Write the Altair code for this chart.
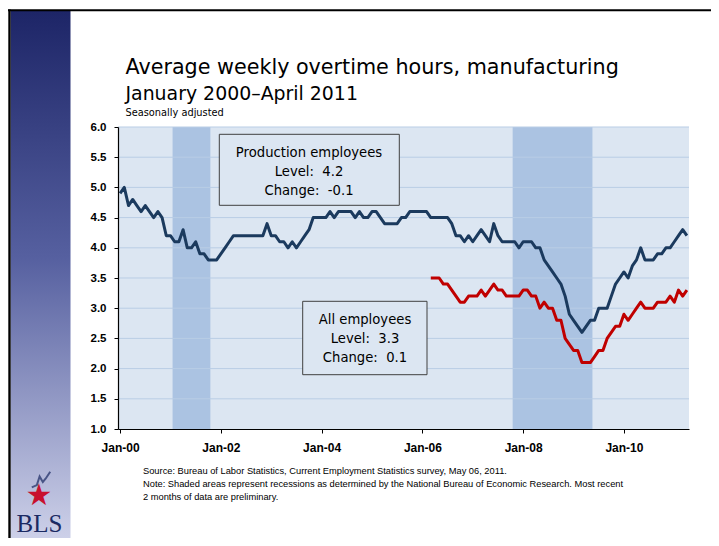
import json
import altair as alt
import pandas as pd

# ---------------- data ----------------
title_line1 = "Average weekly overtime hours, manufacturing"
title_line2 = "January 2000\u2013April 2011"
title_line3 = "Seasonally adjusted"

tick_labels = ["Jan-00", "Jan-02", "Jan-04", "Jan-06", "Jan-08", "Jan-10"]
tick_index = [0, 24, 48, 72, 96, 120]          # months since Jan 2000
y_ticks = [1.0, 1.5, 2.0, 2.5, 3.0, 3.5, 4.0, 4.5, 5.0, 5.5, 6.0]

series_names = ["Production employees", "All employees"]
series_colors = ["#1b3a5e", "#c00000"]

# Production employees, Jan 2000 .. Apr 2011 (monthly)
production_hours = [4.9, 5.0, 4.7, 4.8, 4.7, 4.6, 4.7, 4.6, 4.5, 4.6, 4.5, 4.2,
                    4.2, 4.1, 4.1, 4.3, 4.0, 4.0, 4.1, 3.9, 3.9, 3.8, 3.8, 3.8,
                    3.9, 4.0, 4.1, 4.2, 4.2, 4.2, 4.2, 4.2, 4.2, 4.2, 4.2, 4.4,
                    4.2, 4.2, 4.1, 4.1, 4.0, 4.1, 4.0, 4.1, 4.2, 4.3, 4.5, 4.5,
                    4.5, 4.5, 4.6, 4.5, 4.6, 4.6, 4.6, 4.6, 4.5, 4.6, 4.5, 4.5,
                    4.6, 4.6, 4.5, 4.4, 4.4, 4.4, 4.4, 4.5, 4.5, 4.6, 4.6, 4.6,
                    4.6, 4.6, 4.5, 4.5, 4.5, 4.5, 4.5, 4.4, 4.2, 4.2, 4.1, 4.2,
                    4.1, 4.2, 4.3, 4.2, 4.1, 4.4, 4.2, 4.1, 4.1, 4.1, 4.1, 4.0,
                    4.1, 4.1, 4.1, 4.0, 4.0, 3.8, 3.7, 3.6, 3.5, 3.4, 3.2, 2.9,
                    2.8, 2.7, 2.6, 2.7, 2.8, 2.8, 3.0, 3.0, 3.0, 3.2, 3.4, 3.5,
                    3.6, 3.5, 3.7, 3.8, 4.0, 3.8, 3.8, 3.8, 3.9, 3.9, 4.0, 4.0,
                    4.1, 4.2, 4.3, 4.2]

# All employees, Mar 2006 .. Apr 2011 (monthly)
all_start_month = 74   # Mar 2006
all_hours = [3.5, 3.5, 3.5, 3.4, 3.4, 3.3, 3.2, 3.1, 3.1, 3.2, 3.2, 3.2,
             3.3, 3.2, 3.3, 3.4, 3.3, 3.3, 3.2, 3.2, 3.2, 3.2, 3.3, 3.3,
             3.2, 3.2, 3.0, 3.1, 3.0, 3.0, 2.8, 2.8, 2.5, 2.4, 2.3, 2.3,
             2.1, 2.1, 2.1, 2.2, 2.3, 2.3, 2.5, 2.6, 2.7, 2.7, 2.9, 2.8,
             2.9, 3.0, 3.1, 3.0, 3.0, 3.0, 3.1, 3.1, 3.1, 3.2, 3.1, 3.3,
             3.2, 3.3]

# recession shading: first and last shaded month (months since Jan 2000)
recession_first = [13, 94]
recession_last = [21, 112]

box1_lines = ["Production employees", "Level:\u00a0 4.2", "Change:\u00a0 -0.1"]
box2_lines = ["All employees", "Level:\u00a0 3.3", "Change:\u00a0 0.1"]

footer_lines = [
    "Source: Bureau of Labor Statistics, Current Employment Statistics survey, May 06, 2011.",
    "Note: Shaded areas represent recessions as determined by the National Bureau of Economic Research. Most recent",
    "2 months of data are preliminary.",
]

# ---------------- layout ----------------
W, H = 571, 302
PAD_L, PAD_T = 110, 119
CANVAS_W, CANVAS_H = 703, 530
PAD_R = CANVAS_W - PAD_L - W
PAD_B = CANVAS_H - PAD_T - H


def px(page_x):
    return page_x - (8 + PAD_L)


def py(page_y):
    return page_y - (8 + PAD_T)


one = pd.DataFrame({"k": [0]})

x_scale = alt.Scale(domain=[-0.5, 135.5], nice=False, zero=False)
y_scale = alt.Scale(domain=[1, 6], nice=False, zero=False)

prod_df = pd.DataFrame({"month": list(range(len(production_hours))),
                        "hours": production_hours, "series": series_names[0]})
all_df = pd.DataFrame({"month": list(range(all_start_month, all_start_month + len(all_hours))),
                       "hours": all_hours, "series": series_names[1]})
lines_df = pd.concat([prod_df, all_df], ignore_index=True)

rec_df = pd.DataFrame({"first": recession_first, "last": recession_last})
grid_df = pd.DataFrame({"v": y_ticks[1:]})

label_expr = json.dumps(tick_labels) + "[round(datum.value / 24)]"

axis_common = dict(title=None, domainColor="black", domainWidth=1.2, tickColor="black",
                   tickSize=4, labelFont="Liberation Sans", labelFontWeight="bold",
                   labelColor="black", zindex=1, grid=False)

x_axis = alt.Axis(values=tick_index, labelExpr=label_expr, labelFontSize=12,
                  labelPadding=9, **axis_common)
y_axis = alt.Axis(values=y_ticks, format=".1f", labelFontSize=11.5, labelPadding=8,
                  **axis_common)

recessions = alt.Chart(rec_df).transform_calculate(
    x0="datum.first - 0.5", x1="datum.last + 0.5"
).mark_rect(color="#abc3e2").encode(
    x=alt.X("x0:Q", scale=x_scale, axis=x_axis),
    x2="x1:Q",
    y=alt.value(0), y2=alt.value(H),
)

grid = alt.Chart(grid_df).mark_rule(color="#b9cde5", strokeWidth=1).encode(
    y=alt.Y("v:Q", scale=y_scale, axis=y_axis),
    x=alt.value(0), x2=alt.value(W),
)

lines = alt.Chart(lines_df).mark_line(strokeWidth=3, strokeJoin="round").encode(
    x=alt.X("month:Q", scale=x_scale, axis=x_axis),
    y=alt.Y("hours:Q", scale=y_scale, axis=y_axis),
    color=alt.Color("series:N", scale=alt.Scale(domain=series_names, range=series_colors),
                    legend=None),
    detail="series:N",
)


def box(x0, x1, y0, y1):
    return alt.Chart(one).mark_rect(fill="#dce6f2", stroke="#404040", strokeWidth=1).encode(
        x=alt.value(px(x0)), x2=alt.value(px(x1)), y=alt.value(py(y0)), y2=alt.value(py(y1)))


def label(text, x, y, size, font="DejaVu Sans", align="left", baseline="alphabetic",
          weight="normal", color="black"):
    return alt.Chart(one).mark_text(text=text, font=font, fontSize=size, align=align,
                                    baseline=baseline, fontWeight=weight, color=color).encode(
        x=alt.value(px(x)), y=alt.value(py(y)))


box_font = 13.2
box1 = [box(219.3, 399.3, 134.3, 205.3)] + [
    label(t, 309, yy, box_font, align="center", baseline="middle")
    for t, yy in zip(box1_lines, [152.5, 171.7, 190.7])]
box2 = [box(302.7, 427, 301.3, 374.7)] + [
    label(t, 365, yy, box_font, align="center", baseline="middle")
    for t, yy in zip(box2_lines, [320, 339.3, 358.3])]

titles = [
    label(title_line1, 125.5, 74, 20.7),
    label(title_line2, 125.5, 100, 18.9),
    label(title_line3, 125.5, 115.5, 9.8),
]

footer = [label(t, 143, yy, 9.3, font="Liberation Sans")
          for t, yy in zip(footer_lines, [473.5, 486.5, 499.5])]

sidebar = alt.Chart(one).mark_rect(fill={
    "gradient": "linear", "x1": 0, "y1": 0, "x2": 0, "y2": 1,
    "stops": [{"offset": 0, "color": "#1d2567"},
              {"offset": 0.45, "color": "#5660a0"},
              {"offset": 1, "color": "#d6d9ee"}]}).encode(
    x=alt.value(px(10.7)), x2=alt.value(px(70.5)), y=alt.value(py(11)), y2=alt.value(py(560)))

top_border = alt.Chart(one).mark_rule(color="black", strokeWidth=2).encode(
    x=alt.value(px(8)), x2=alt.value(px(740)), y=alt.value(py(10.2)))
left_border = alt.Chart(one).mark_rule(color="black", strokeWidth=2.4).encode(
    x=alt.value(px(9.5)), y=alt.value(py(9.5)), y2=alt.value(py(560)))

logo = [
    label("\u2605", 39, 496, 30, align="center", baseline="middle", color="#c8102e"),
    alt.Chart(one).mark_point(shape="M -1 0.7 L -0.45 0.45 L -0.15 -0.5 L 0.2 0.1 L 0.5 -0.25 L 1 -1",
                              filled=False, stroke="#1b2a63", strokeWidth=2, size=340).encode(
        x=alt.value(px(41)), y=alt.value(py(481))),
    label("BLS", 39.5, 532, 25, font="Liberation Serif", align="center", color="#1b2a63"),
]

chart = alt.layer(
    recessions, grid, lines, *box1, *box2, *titles, *footer, sidebar, top_border,
    left_border, *logo
).properties(
    width=W, height=H,
    padding={"left": PAD_L, "top": PAD_T, "right": PAD_R, "bottom": PAD_B},
    autosize=alt.AutoSizeParams(type="none"),
    background="white",
).configure_view(fill="#dce6f2", stroke=None)

chart.save("out.html", embed_options={"renderer": "svg", "actions": False})
